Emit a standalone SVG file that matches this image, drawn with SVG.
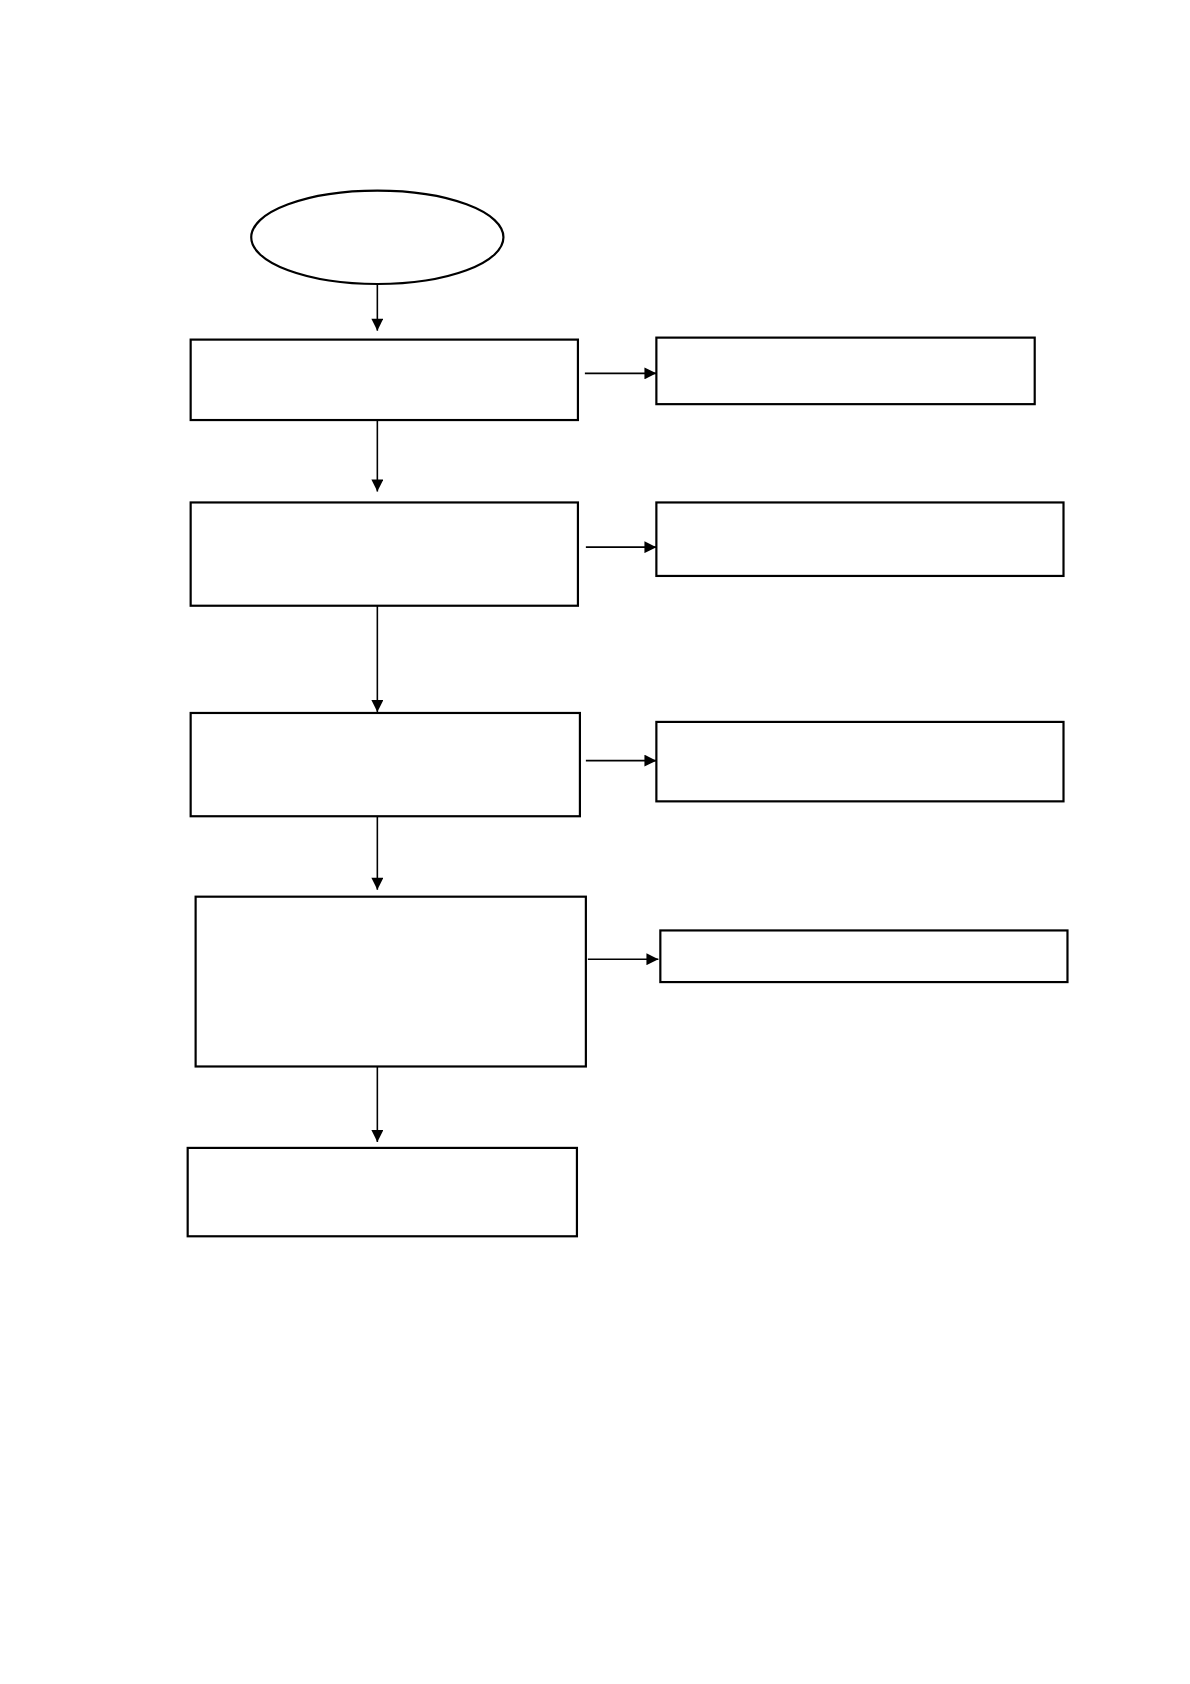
<svg xmlns="http://www.w3.org/2000/svg" width="1190" height="1684" viewBox="0 0 1190 1684">
<style>.n{fill:#fff;stroke:#000;stroke-width:2.2}.c{stroke:#000;stroke-width:1.6;fill:none}</style>
<defs><marker id="a" viewBox="0 0 10 10" refX="10" refY="5" markerWidth="13" markerHeight="12" markerUnits="userSpaceOnUse" orient="auto"><path d="M0,0L10,5L0,10z" fill="#000"/></marker></defs>
<rect width="1190" height="1684" fill="#fff"/>
<g transform="scale(0.993)">
<g id="start"><ellipse class="n" cx="380" cy="239" rx="127" ry="47"/></g>
<g id="b1"><rect class="n" x="192" y="342" width="390" height="81"/></g>
<g id="s1"><rect class="n" x="661" y="340" width="381" height="67"/></g>
<g id="b2"><rect class="n" x="192" y="506" width="390" height="104"/></g>
<g id="s2"><rect class="n" x="661" y="506" width="410" height="74"/></g>
<g id="b3"><rect class="n" x="192" y="718" width="392" height="104"/></g>
<g id="s3"><rect class="n" x="661" y="727" width="410" height="80"/></g>
<g id="b4"><rect class="n" x="197" y="903" width="393" height="171"/></g>
<g id="s4"><rect class="n" x="665" y="937" width="410" height="52"/></g>
<g id="b5"><rect class="n" x="189" y="1156" width="392" height="89"/></g>
<g id="connectors">
<path class="c" marker-end="url(#a)" d="M380 286V333"/>
<path class="c" marker-end="url(#a)" d="M380 423V495"/>
<path class="c" marker-end="url(#a)" d="M380 610V717"/>
<path class="c" marker-end="url(#a)" d="M380 822V896"/>
<path class="c" marker-end="url(#a)" d="M380 1074V1150"/>
<path class="c" marker-end="url(#a)" d="M589 376H661"/>
<path class="c" marker-end="url(#a)" d="M590 551H661"/>
<path class="c" marker-end="url(#a)" d="M590 766H661"/>
<path class="c" marker-end="url(#a)" d="M592 966H663"/>
</g>
</g>
</svg>
